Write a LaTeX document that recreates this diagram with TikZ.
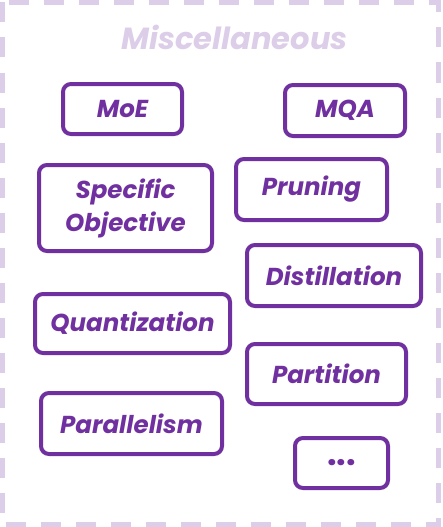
\documentclass[tikz,border=0pt]{standalone}
\usepackage{fontspec}
\newfontfamily\labelfont{Poppins}
\definecolor{deeppurple}{HTML}{7030A0}
\definecolor{paleplum}{HTML}{DCCDE8}
\tikzset{
  frameline/.style={draw=paleplum, line width=5pt, dash pattern=on 20pt off 15pt},
  techbox/.style={draw=deeppurple, line width=4pt, rounded corners=8pt,
    inner sep=0pt, align=center, text=deeppurple,
    font=\labelfont\bfseries\itshape\fontsize{24.5}{33}\selectfont},
  heading/.style={text=paleplum, font=\labelfont\bfseries\itshape\fontsize{30.5}{34}\selectfont}
}
\begin{document}
\begin{tikzpicture}[x=1pt, y=-1pt]
  \useasboundingbox (0,0) rectangle (442,527);
  % dashed outer frame
  \draw[frameline] (2.5,2.5) rectangle (438.5,524.5);
  \node[heading] (title) at (234.5,37.5) {Miscellaneous};
  % technique boxes
  \node[techbox, minimum width=119pt, minimum height=50pt] (moe) at (122.5,109) {MoE};
  \node[techbox, minimum width=120pt, minimum height=51pt] (mqa) at (345,110.5) {MQA};
  \node[techbox, minimum width=173pt, minimum height=86pt] (spec) at (125.5,208) {Specific\\Objective};
  \node[techbox, minimum width=151pt, minimum height=61pt] (prun) at (311.5,189.5) {Pruning};
  \node[techbox, minimum width=174pt, minimum height=61pt] (dist) at (334,275.5) {Distillation};
  \node[techbox, minimum width=195pt, minimum height=59pt] (quant) at (132.5,323.5) {Quantization};
  \node[techbox, minimum width=159pt, minimum height=60pt] (part) at (326.5,374) {Partition};
  \node[techbox, minimum width=181pt, minimum height=61pt] (para) at (131.5,423.5) {Parallelism};
  \node[techbox, minimum width=93pt, minimum height=50pt,
    font=\labelfont\bfseries\fontsize{34}{34}\selectfont] (more) at (341.5,463) {...};
\end{tikzpicture}
\end{document}
